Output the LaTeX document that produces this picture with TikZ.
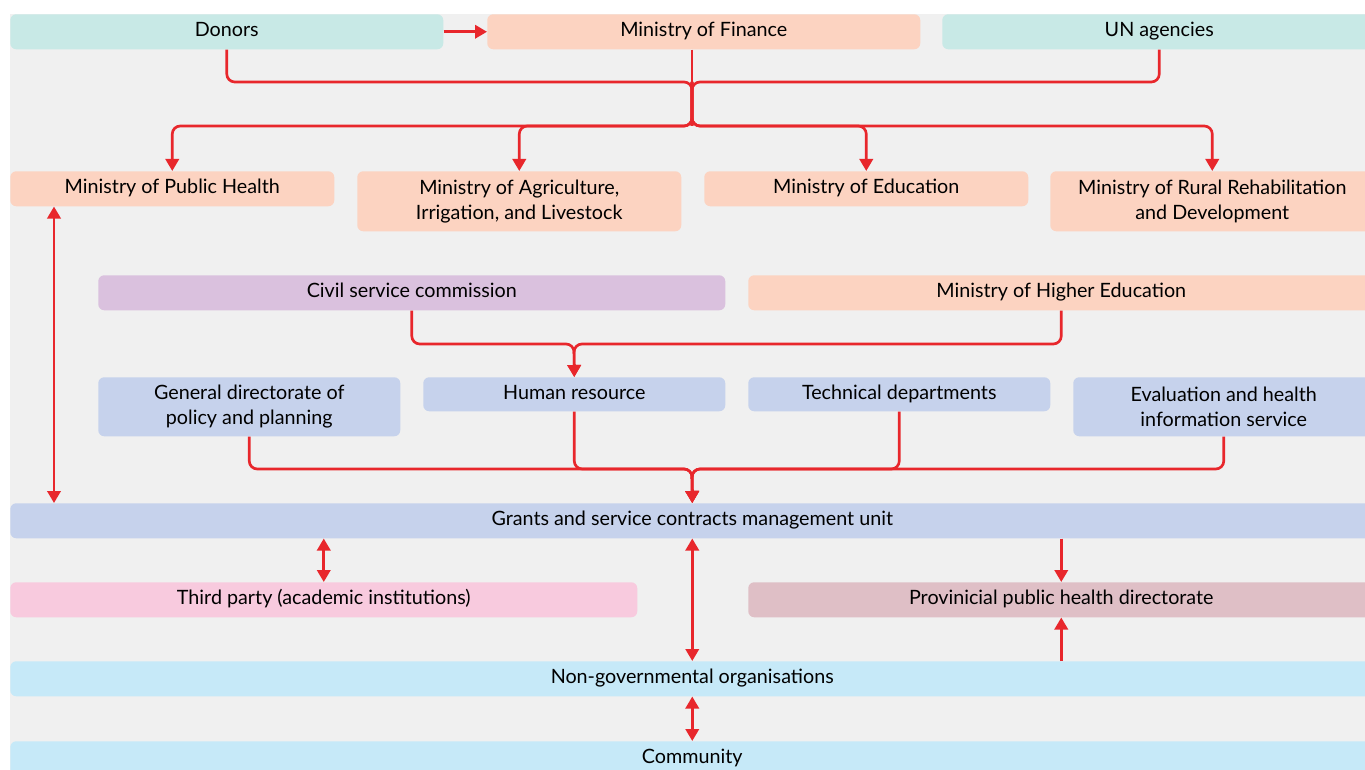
\documentclass[tikz,border=0pt]{standalone}
\usepackage{fontspec}
\setmainfont{Lato}
\usetikzlibrary{arrows.meta}

\definecolor{bgray}{HTML}{F0F0F0}
\definecolor{cteal}{HTML}{C8E9E6}
\definecolor{cpeach}{HTML}{FCD3C1}
\definecolor{cpurple}{HTML}{DAC1DE}
\definecolor{cblue}{HTML}{C6D2EC}
\definecolor{cpink}{HTML}{F8CADE}
\definecolor{cmauve}{HTML}{DFBFC6}
\definecolor{csky}{HTML}{C6E9F8}
\definecolor{cred}{HTML}{E8272C}

\tikzset{
	box/.style={rectangle, rounded corners=4.5pt, fill=#1, draw=none, inner sep=0pt, anchor=north west, align=center,
		font=\fontsize{14.8}{18.75}\selectfont},
	sz/.style 2 args={minimum width=#1*0.75pt, minimum height=#2*0.75pt},
	link/.style={draw=cred, line width=2pt, rounded corners=6pt},
	arr/.style={link, -{Triangle[length=9pt,width=10pt]}},
	dbl/.style={link, {Triangle[length=9pt,width=10pt]}-{Triangle[length=9pt,width=10pt]}},
}

\begin{document}
\begin{tikzpicture}[x=0.75pt,y=0.75pt,yscale=-1,xscale=1]
				\useasboundingbox (0,0) rectangle (1365,770);
				\fill[bgray] (10,14) rectangle (1365,770);

				% top row
				\node[box=cteal, sz={433}{35}] (donors) at (10,14) {\strut Donors};
				\node[box=cpeach, sz={433}{35}] (mof) at (487,14) {\strut Ministry of Finance};
				\node[box=cteal, sz={434}{35}] (un) at (942,14) {\strut UN agencies};

				% ministries
				\node[box=cpeach, sz={324}{35}] (mph) at (10,171) {\strut Ministry of Public Health};
				\node[box=cpeach, sz={324}{60}] (mail) at (357,171) {Ministry of Agriculture,\\Irrigation, and Livestock};
				\node[box=cpeach, sz={324}{35}] (med) at (704,171) {\strut Ministry of Education};
				\node[box=cpeach, sz={324}{60}] (mrrd) at (1050,171) {Ministry of Rural Rehabilitation\\and Development};

				\node[box=cpurple, sz={627}{35}] (csc) at (98,275) {\strut Civil service commission};
				\node[box=cpeach, sz={626}{35}] (mhe) at (748,275) {\strut Ministry of Higher Education};

				% departments
				\node[box=cblue, sz={302}{59}] (gdpp) at (98,377) {General directorate of\\policy and planning};
				\node[box=cblue, sz={302}{34}] (hr) at (423,377) {\strut Human resource};
				\node[box=cblue, sz={302}{34}] (tech) at (748,377) {\strut Technical departments};
				\node[box=cblue, sz={301}{59}] (ehis) at (1073,377) {Evaluation and health\\information service};

				\node[box=cblue, sz={1364}{35}] (gscmu) at (10,503) {\strut Grants and service contracts management unit};
				\node[box=cpink, sz={627}{35}] (third) at (10,582) {\strut Third party (academic institutions)};
				\node[box=cmauve, sz={626}{35}] (ppd) at (748,582) {\strut Provinicial public health directorate};
				\node[box=csky, sz={1364}{35}] (ngo) at (10,661) {\strut Non-governmental organisations};
				\node[box=csky, sz={1364}{35}] (comm) at (10,741) {\strut Community};

				% junctions
				\coordinate (hub) at (692,82);
				\coordinate (hubb) at (692,126);
				\coordinate (hrj) at (574,344);
				\coordinate (gj) at (692,469);
				\coordinate (lx) at (54,0);

				\draw[arr] (donors) -- (mof);
				\draw[link] (donors.south) |- (hub) -- (hubb);
				\draw[link] (un.south) |- (hub) -- (hubb);
				\draw[link] (mof.south -| hub) -- (hubb);
				\foreach \m in {mph,mail,med,mrrd}
					\draw[arr] (hub) -- (hubb) -| (\m.north);

				\draw[arr] (csc.south) |- (hrj) -- (hr.north);
				\draw[arr] (mhe.south) |- (hrj) -- (hr.north);

				\foreach \d in {gdpp,hr,tech,ehis}
					\draw[arr] (\d.south) |- (gj) -- (gscmu.north);

				\draw[dbl] (mph.south -| lx) -- (gscmu.north -| lx);
				\draw[dbl] (third.north |- gscmu.south) -- (third.north);
				\draw[dbl] (gscmu.south) -- (ngo.north);
				\draw[arr] (ppd.north |- gscmu.south) -- (ppd.north);
				\draw[arr] (ppd.south |- ngo.north) -- (ppd.south);
				\draw[dbl] (ngo.south) -- (comm.north);
\end{tikzpicture}
\end{document}
